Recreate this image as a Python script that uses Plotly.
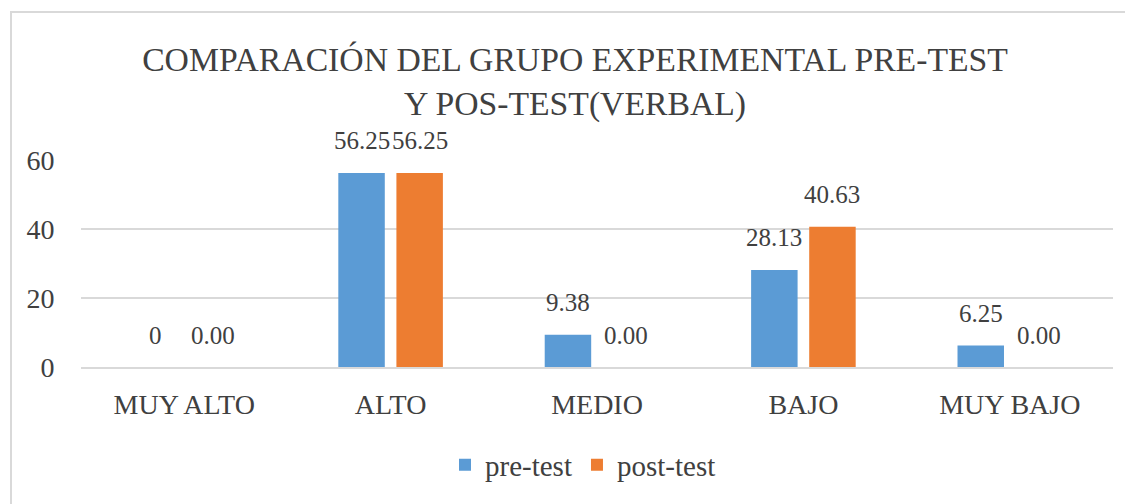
import plotly.graph_objects as go

categories = ["MUY ALTO", "ALTO", "MEDIO", "BAJO", "MUY BAJO"]
pre_test = [0, 56.25, 9.38, 28.13, 6.25]
post_test = [0.00, 56.25, 0.00, 40.63, 0.00]
pre_labels = ["0", "56.25", "9.38", "28.13", "6.25"]
post_labels = ["0.00", "56.25", "0.00", "40.63", "0.00"]
y_ticks = [0, 20, 40, 60]

FONT = "Liberation Serif"
TXT = "#404040"
BLUE = "#5B9BD5"
ORANGE = "#ED7D31"

# page body has an 8px margin; compensate so the picture lands at the reference pixels
OFF = 8
W, H = 1133 - OFF, 504 - OFF
L, R, T, B = 81 - OFF, 20, 160 - OFF, 137
bargap = 0.437
bargroupgap = 0.2

fig = go.Figure()
fig.add_trace(go.Bar(name="pre-test", x=categories, y=pre_test,
                     marker=dict(color=BLUE, line=dict(width=0))))
fig.add_trace(go.Bar(name="post-test", x=categories, y=post_test,
                     marker=dict(color=ORANGE, line=dict(width=0))))

plot_w = W - L - R
slot = plot_w / len(categories) * (1 - bargap) / 2
shift = slot / 2

annotations = []
for cat, v, lab in zip(categories, pre_test, pre_labels):
    annotations.append(dict(x=cat, y=v, xref="x", yref="y", text=lab, showarrow=False,
                            xshift=-shift, yshift=32, yanchor="middle",
                            font=dict(family=FONT, size=25, color=TXT)))
for cat, v, lab in zip(categories, post_test, post_labels):
    annotations.append(dict(x=cat, y=v, xref="x", yref="y", text=lab, showarrow=False,
                            xshift=shift, yshift=32, yanchor="middle",
                            font=dict(family=FONT, size=25, color=TXT)))

plot_h = H - T - B
def px_x(p):
    return (p - OFF - L) / plot_w
def px_y(p):
    return (H - B - (p - OFF)) / plot_h

fig.update_layout(
    width=W, height=H,
    margin=dict(l=L, r=R, t=T, b=B, autoexpand=False),
    paper_bgcolor="white", plot_bgcolor="white",
    barmode="group", bargap=bargap, bargroupgap=bargroupgap,
    title=dict(text="COMPARACIÓN DEL GRUPO EXPERIMENTAL PRE-TEST<br>Y POS-TEST(VERBAL)",
               x=(575 - OFF) / W, xanchor="center", xref="container",
               y=1 - (71 - OFF) / H, yanchor="middle",
               font=dict(family=FONT, size=33.7, color=TXT)),
    font=dict(family=FONT, color=TXT),
    xaxis=dict(showgrid=False, showline=True, linecolor="#d9d9d9", linewidth=2,
               ticks="outside", ticklen=11, tickcolor="rgba(0,0,0,0)",
               tickfont=dict(family=FONT, size=28, color=TXT)),
    yaxis=dict(range=[0, 60], tickvals=y_ticks, showgrid=True, gridcolor="#d9d9d9", gridwidth=2,
               zeroline=False, showline=False, ticks="outside", ticklen=20,
               tickcolor="rgba(0,0,0,0)", tickfont=dict(family=FONT, size=28, color=TXT)),
    legend=dict(orientation="h", x=px_x(583), xanchor="center", xref="paper",
                y=px_y(465), yanchor="middle", font=dict(family=FONT, size=29, color=TXT),
                itemwidth=30, traceorder="normal"),
    annotations=annotations,
    shapes=[dict(type="rect", xref="paper", yref="paper",
                 x0=px_x(11), x1=px_x(1145), y0=px_y(515), y1=px_y(12),
                 line=dict(color="#d9d9d9", width=2), fillcolor="rgba(0,0,0,0)", layer="below")],
    showlegend=True,
)

fig.write_html("out.html")
